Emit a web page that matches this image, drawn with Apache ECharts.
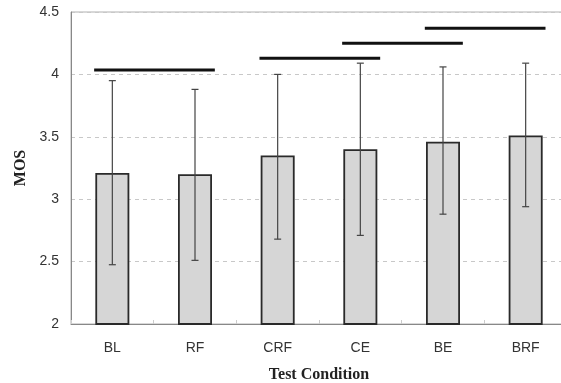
<!DOCTYPE html>
<html>
<head>
<meta charset="utf-8">
<script src="https://cdn.jsdelivr.net/npm/echarts@6/dist/echarts.min.js"></script>
<style>
html,body{margin:0;padding:0;background:#fff;}
#c{width:561px;height:383px;}
</style>
</head>
<body>
<div id="c"></div>
<script>
var categories = ['BL', 'RF', 'CRF', 'CE', 'BE', 'BRF'];
var meanMOS = [3.21, 3.20, 3.35, 3.40, 3.46, 3.51];
var errLow = [2.475, 2.51, 2.68, 2.71, 2.88, 2.94];
var errHigh = [3.95, 3.88, 4.00, 4.09, 4.06, 4.09];
// significance groups: [first category index, last category index, level]
var sigGroups = [[0, 1, 4.035], [2, 3, 4.13], [3, 4, 4.25], [4, 5, 4.37]];
var yTicks = [2, 2.5, 3, 3.5, 4, 4.5];

var chart = echarts.init(document.getElementById('c'));
var errData = categories.map(function (c, i) { return [i, errLow[i], errHigh[i]]; });

chart.setOption({
  animation: false,
  grid: { left: 71, top: 12, width: 496, height: 312, outerBoundsMode: 'none', containLabel: false, show: true, borderColor: '#b0b0b0', borderWidth: 1 },
  xAxis: {
    type: 'category',
    data: categories,
    name: 'Test Condition',
    nameLocation: 'middle',
    nameGap: 43,
    nameTextStyle: { fontFamily: 'Liberation Serif', fontWeight: 'bold', fontSize: 16, color: '#222' },
    axisLine: { lineStyle: { color: '#888', width: 1 } },
    axisTick: { show: true, inside: true, length: 4, lineStyle: { color: '#ccc' } },
    axisLabel: { fontFamily: 'Liberation Sans', fontSize: 14, color: '#333', margin: 17 },
    splitLine: { show: false }
  },
  yAxis: {
    type: 'value',
    min: 2, max: 4.5, interval: 0.5,
    name: 'MOS',
    nameLocation: 'middle',
    nameGap: 40,
    nameRotate: 90,
    nameTextStyle: { fontFamily: 'Liberation Serif', fontWeight: 'bold', fontSize: 16, color: '#222' },
    axisLine: { show: true, lineStyle: { color: '#888', width: 1 } },
    axisTick: { show: false },
    axisLabel: {
      fontFamily: 'Liberation Sans', fontSize: 14, color: '#333', margin: 12,
      formatter: function (v) { return yTicks.indexOf(v) >= 0 ? String(v) : ''; }
    },
    splitLine: { show: true, lineStyle: { color: '#c8c8c8', type: [4, 4], width: 1 } }
  },
  series: [
    {
      type: 'bar',
      data: meanMOS,
      barWidth: 34,
      itemStyle: { color: '#d6d6d6', borderColor: '#2a2a2a', borderWidth: 1.8 },
      z: 2
    },
    {
      type: 'custom',
      data: errData,
      z: 3,
      encode: { x: 0, y: [1, 2] },
      renderItem: function (params, api) {
        var x = api.value(0);
        var lo = api.coord([x, api.value(1)]);
        var hi = api.coord([x, api.value(2)]);
        var cw = 3.5;
        var st = { stroke: '#444', lineWidth: 1.2 };
        return {
          type: 'group',
          children: [
            { type: 'line', shape: { x1: hi[0], y1: hi[1], x2: lo[0], y2: lo[1] }, style: st },
            { type: 'line', shape: { x1: hi[0] - cw, y1: hi[1], x2: hi[0] + cw, y2: hi[1] }, style: st },
            { type: 'line', shape: { x1: lo[0] - cw, y1: lo[1], x2: lo[0] + cw, y2: lo[1] }, style: st }
          ]
        };
      }
    },
    {
      type: 'custom',
      data: sigGroups,
      z: 4,
      encode: { x: [0, 1], y: 2 },
      renderItem: function (params, api) {
        var a = api.coord([api.value(0), api.value(2)]);
        var b = api.coord([api.value(1), api.value(2)]);
        var bw = api.size([1, 0])[0];
        return {
          type: 'line',
          shape: { x1: a[0] - 0.22 * bw, y1: a[1], x2: b[0] + 0.24 * bw, y2: b[1] },
          style: { stroke: '#111', lineWidth: 3 }
        };
      }
    }
  ]
});
</script>
</body>
</html>
